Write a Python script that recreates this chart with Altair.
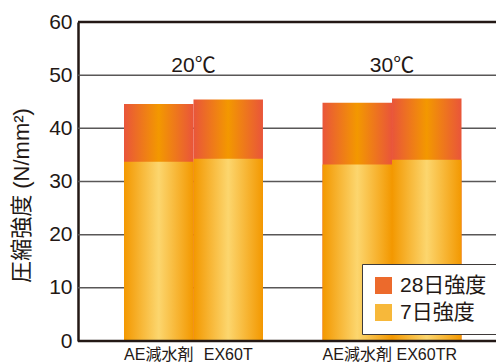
import altair as alt
import pandas as pd

groups = ["20℃", "30℃"]
bar_ids = ["a", "b", "a", "b"]
bar_labels = ["AE減水剤", "EX60T", "AE減水剤", "EX60TR"]
day28 = [44.6, 45.4, 44.8, 45.6]
day7 = [33.7, 34.3, 33.2, 34.1]
series = ["28日強度", "7日強度"]
series_colors = ["#EC6A2C", "#F7B83A"]
grid_values = [10, 20, 30, 40, 50]
frame_values = [0, 60]

FONT = "Liberation Sans, Noto Sans CJK JP, sans-serif"
TXT = "#231815"

df = pd.DataFrame({
    "group": [groups[0], groups[0], groups[1], groups[1]],
    "bar": bar_ids,
    "label": bar_labels,
    "d28": day28,
    "d7": day7,
})
gdf = pd.DataFrame({"group": groups})
griddf = pd.DataFrame({"v": grid_values})
framedf = pd.DataFrame({"v": frame_values})

grad28 = alt.Gradient(
    gradient="linear",
    stops=[alt.GradientStop(color="#E9553A", offset=0),
           alt.GradientStop(color="#F39800", offset=0.5),
           alt.GradientStop(color="#E9553A", offset=1)],
    x1=0, x2=1, y1=0, y2=0)
grad7 = alt.Gradient(
    gradient="linear",
    stops=[alt.GradientStop(color="#F39800", offset=0),
           alt.GradientStop(color="#FCD66E", offset=0.5),
           alt.GradientStop(color="#F39800", offset=1)],
    x1=0, x2=1, y1=0, y2=0)

xenc = alt.X("group:N", sort=groups,
             scale=alt.Scale(paddingInner=0.3, paddingOuter=0, range=[46, 383.5]),
             axis=None)
xoff = alt.XOffset("bar:N", scale=alt.Scale(paddingInner=0, paddingOuter=0))
yscale = alt.Scale(domain=[0, 60], nice=False)
yaxis = alt.Axis(values=[0, 10, 20, 30, 40, 50, 60], tickSize=0, labelPadding=6,
                 labelFontSize=21, labelFont=FONT, labelColor=TXT,
                 grid=False,
                 domainColor="#231815", domainWidth=2.5,
                 title="圧縮強度 (N/mm²)", titleFontSize=22, titleFont=FONT,
                 titleFontWeight="normal", titleColor=TXT,
                 titleAngle=270, titleAlign="center", titleBaseline="bottom",
                 titleX=-45, titleY=173)

base = alt.Chart(df)

grid = alt.Chart(griddf).mark_rule(color="#595757", strokeWidth=1.5).encode(
    y=alt.Y("v:Q", scale=yscale, axis=yaxis))

b28 = base.mark_bar(color=grad28).encode(
    x=xenc, xOffset=xoff, y=alt.Y("d28:Q"))
b7 = base.mark_bar(color=grad7).encode(
    x=xenc, xOffset=xoff, y=alt.Y("d7:Q"))

frame = alt.Chart(framedf).mark_rule(color="#231815", strokeWidth=2.5).encode(
    y=alt.Y("v:Q"))

legend_layer = base.transform_fold(["d28", "d7"], as_=["key", "value"]).transform_calculate(
    series="datum.key == 'd28' ? '28日強度' : '7日強度'"
).mark_point(shape="square", filled=True, size=0).encode(
    x=xenc, xOffset=xoff, y=alt.Y("value:Q"),
    color=alt.Color("series:N", scale=alt.Scale(domain=series, range=series_colors),
                    legend=alt.Legend(title=None, orient="none", legendX=284, legendY=242,
                                      fillColor="white", strokeColor="#3E3A39",
                                      padding=11, symbolSize=289, symbolType="square",
                                      symbolStrokeWidth=0, symbolOpacity=1,
                                      labelFontSize=21, labelFont=FONT, labelColor=TXT,
                                      rowPadding=5, labelOffset=6)))

temp_text = alt.Chart(gdf).mark_text(fontSize=21, font=FONT, color=TXT,
                                     baseline="alphabetic", dy=-3).encode(
    x=xenc, y=alt.datum(50), text="group:N")

bar_text = base.mark_text(fontSize=16, font=FONT, color=TXT, baseline="middle", dy=14).encode(
    x=xenc, xOffset=xoff, y=alt.datum(0), text="label:N")

chart = alt.layer(grid, b28, b7, frame, legend_layer, temp_text, bar_text).properties(
    width=418, height=319,
    padding={"left": 78, "top": 22, "right": 0, "bottom": 23},
    autosize="none",
).configure_view(
    fill="#FEFCE3", stroke=None
).configure(background="white")

chart.save("out.html", embed_options={"renderer": "svg", "actions": False})
